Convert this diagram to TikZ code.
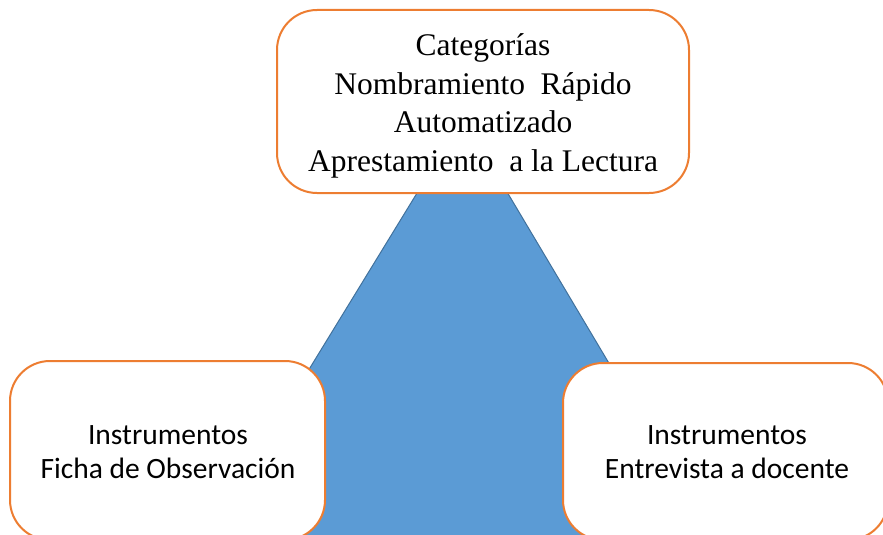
\documentclass[tikz,border=0pt]{standalone}
\usepackage{fontspec}
\newfontfamily\serifA{Liberation Serif}
\newfontfamily\sansA{Carlito}
\definecolor{boxorange}{HTML}{ED7D31}
\definecolor{triblue}{HTML}{5B9BD5}
\definecolor{triedge}{HTML}{41719C}
\tikzset{
  roundbox/.style={draw=boxorange, line width=2pt, fill=white, rounded corners=40pt,
    inner sep=0pt, align=center},
  toptext/.style={inner sep=0pt, align=center, font=\serifA\fontsize{31.5}{38.5}\selectfont},
  bottomtext/.style={inner sep=0pt, align=center, font=\sansA\fontsize{29.5}{34}\selectfont},
  triangleshape/.style={fill=triblue, draw=triedge, line width=1pt}
}
\begin{document}
\begin{tikzpicture}[x=1pt,y=-1pt]
\useasboundingbox (0,0) rectangle (883,535);
\clip (0,0) rectangle (883,535);
\coordinate (apex) at (463,118);
\coordinate (bl) at (180,580);
\coordinate (br) at (738,580);
\fill[triangleshape] (apex) -- (bl) -- (br) -- cycle;
\node[roundbox, minimum width=412pt, minimum height=183pt] (top) at (483,101.5) {};
\node[toptext] (toptxt) at (483,106)
  {Categorías\\Nombramiento\ \ Rápido\\Automatizado\\Aprestamiento\ \ a la Lectura};
\node[roundbox, minimum width=315pt, minimum height=179pt] (left) at (167.5,450.5) {};
\node[bottomtext] (lefttxt) at (168,452) {Instrumentos\\Ficha de Observación};
\node[roundbox, minimum width=325pt, minimum height=177pt] (right) at (725.5,451.5) {};
\node[bottomtext] (righttxt) at (727,452) {Instrumentos\\Entrevista a docente};
\end{tikzpicture}
\end{document}
